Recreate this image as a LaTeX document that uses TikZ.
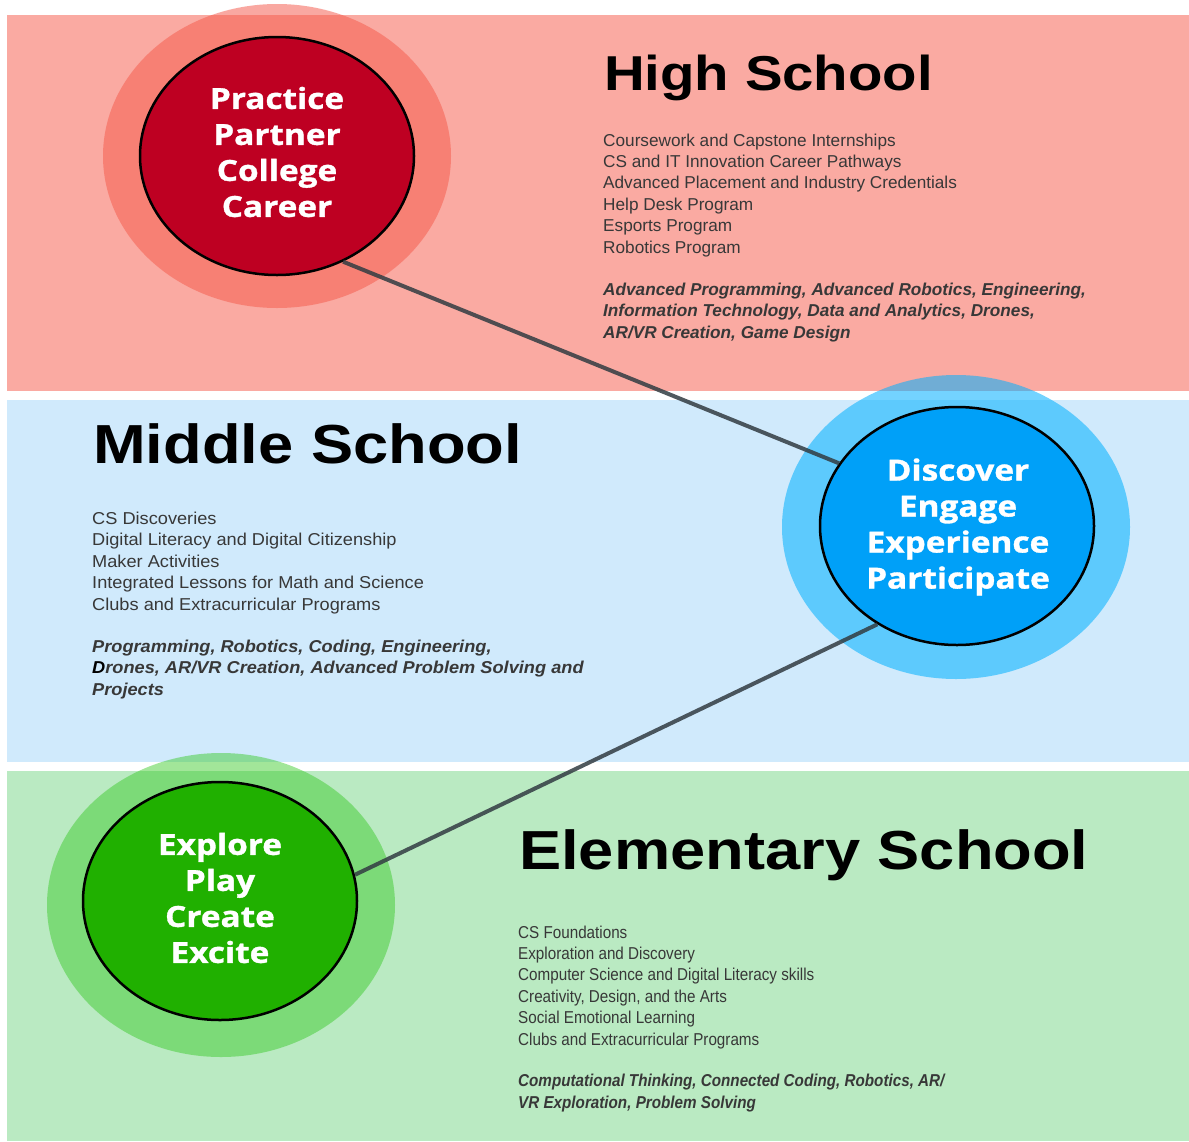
\documentclass[tikz,border=0pt]{standalone}
\usepackage{fontspec}
\setmainfont{Liberation Sans}
\newfontfamily\headfont[FakeStretch=1.15]{Liberation Sans}
\newfontfamily\midfont[FakeStretch=1.058]{Liberation Sans}
\newfontfamily\elemfont[FakeStretch=0.885]{Liberation Sans}
\newfontfamily\circfont[FakeStretch=1.15, BoldFeatures={FakeBold=1.2}]{Open Sans}
\usetikzlibrary{shapes.geometric}
\definecolor{bandred}{RGB}{250,170,162}
\definecolor{bandblue}{RGB}{208,234,252}
\definecolor{bandgreen}{RGB}{186,234,194}
\definecolor{halored}{RGB}{245,90,75}
\definecolor{haloblue}{RGB}{0,176,255}
\definecolor{halogreen}{RGB}{50,200,30}
\definecolor{corered}{RGB}{190,0,34}
\definecolor{coreblue}{RGB}{0,160,248}
\definecolor{coregreen}{RGB}{32,176,0}
\definecolor{bodytext}{RGB}{56,56,56}
\definecolor{connector}{RGB}{50,60,66}
\tikzset{
  halo/.style={ellipse, minimum width=348, minimum height=304, inner sep=0, draw=none, fill opacity=0.55},
  core/.style={ellipse, draw=black, line width=2.5pt, minimum width=274, minimum height=238, inner sep=0},
  coretext/.style={inner sep=0, text=white, align=center, font=\circfont\bfseries\fontsize{29}{36}\selectfont},
  conn/.style={draw=connector, line width=4pt, draw opacity=0.85},
  heading/.style={anchor=base west, inner sep=0, font=\headfont\bfseries\fontsize{55}{55}\selectfont, text=black},
  bodyblock/.style={anchor=base west, inner sep=0, align=left, text=bodytext, font=\fontsize{17.2}{21.4}\selectfont},
  topicblock/.style={anchor=base west, inner sep=0, align=left, text=bodytext, font=\bfseries\itshape\fontsize{17.2}{21.4}\selectfont}
}
\begin{document}
\begin{tikzpicture}[x=1pt,y=-1pt]
\useasboundingbox (0,0) rectangle (1189,1141);
\fill[white] (0,0) rectangle (1189,1141);
% bands
\fill[bandred] (7,15) rectangle (1189,391);
\fill[bandblue] (7,400) rectangle (1189,762);
\fill[bandgreen] (7,771) rectangle (1189,1141);
% halos
\node[halo, fill=halored, fill opacity=0.52] (hshalo) at (277,156) {};
\node[halo, fill=haloblue] (mshalo) at (956,527) {};
\node[halo, fill=halogreen, fill opacity=0.45] (eshalo) at (221,905) {};
% cores
\node[core, fill=corered] (hsc) at (277,156) {};
\node[core, fill=coreblue] (msc) at (957,526) {};
\node[core, fill=coregreen] (esc) at (220,901) {};
% connectors
\draw[conn] (hsc.-58) -- (msc.152);
\draw[conn] (msc.-129) -- (esc.11.7);
% core texts
\node[coretext] (hsct) at (277,152) {Practice\\Partner\\College\\Career};
\node[coretext] (msct) at (958,527) {Discover\\Engage\\Experience\\Participate};
\node[coretext] (esct) at (220,898) {Explore\\Play\\Create\\Excite};
% High school text
\node[heading, font=\headfont\bfseries\fontsize{49}{49}\selectfont] (hsh) at (604,90) {High School};
\node[bodyblock] (hsb) at (603,253) {Coursework and Capstone Internships\\CS and IT Innovation Career Pathways\\Advanced Placement and Industry Credentials\\Help Desk Program\\Esports Program\\Robotics Program};
\node[topicblock] (hst) at (603,338) {Advanced Programming, Advanced Robotics, Engineering,\\Information Technology, Data and Analytics, Drones,\\AR/VR Creation, Game Design};
% Middle school text
\node[heading] (msh) at (93,463) {Middle School};
\node[bodyblock, font=\midfont\fontsize{17.2}{21.5}\selectfont] (msb) at (92,610) {CS Discoveries\\Digital Literacy and Digital Citizenship\\Maker Activities\\Integrated Lessons for Math and Science\\Clubs and Extracurricular Programs};
\node[topicblock, font=\midfont\bfseries\itshape\fontsize{17.2}{21.2}\selectfont] (mst) at (92,695) {Programming, Robotics, Coding, Engineering,\\\textcolor{black}{D}rones, AR/VR Creation, Advanced Problem Solving and\\Projects};
% Elementary school text
\node[heading] (esh) at (519,869) {Elementary School};
\node[bodyblock, font=\elemfont\fontsize{17.2}{21.4}\selectfont] (esb) at (518,1045) {CS Foundations\\Exploration and Discovery\\Computer Science and Digital Literacy skills\\Creativity, Design, and the Arts\\Social Emotional Learning\\Clubs and Extracurricular Programs};
\node[topicblock, font=\elemfont\bfseries\itshape\fontsize{17.2}{21.4}\selectfont] (est) at (518,1108) {Computational Thinking, Connected Coding, Robotics, AR/\\VR Exploration, Problem Solving};
\end{tikzpicture}
\end{document}
